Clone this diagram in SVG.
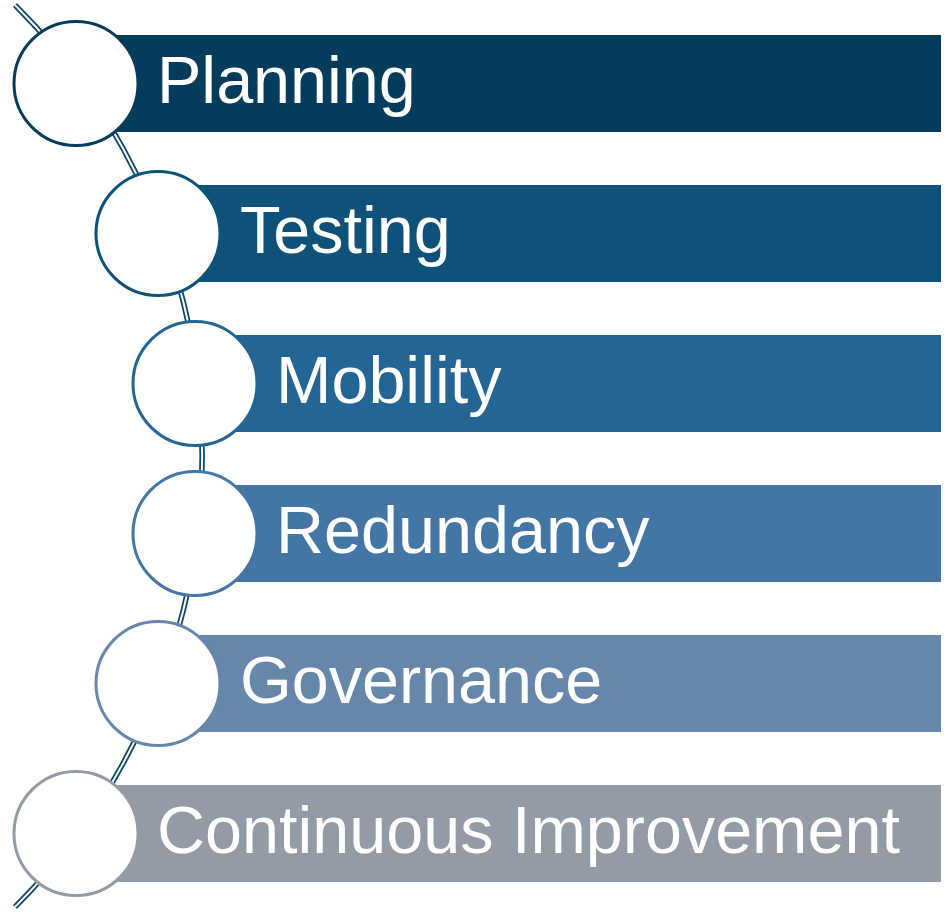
<svg xmlns="http://www.w3.org/2000/svg" width="946" height="912" viewBox="0 0 946 912">
  <style>
    .label { font-family: "Liberation Sans", Arial, sans-serif; font-size: 66.5px; fill: #ffffff; }
    .ring { fill: #ffffff; stroke-width: 3; }
    .rail-outer { fill: none; stroke: #0b4366; stroke-width: 5.5; }
    .rail-inner { fill: none; stroke: #ffffff; stroke-width: 2; }
  </style>
  <rect width="946" height="912" fill="#ffffff"/>

  <!-- bars -->
  <g id="bars">
    <rect id="bar-planning" x="76" y="35" width="865" height="97" fill="#053c5c"/>
    <rect id="bar-testing" x="158" y="185" width="783" height="97" fill="#0f5279"/>
    <rect id="bar-mobility" x="195" y="335" width="746" height="97" fill="#236595"/>
    <rect id="bar-redundancy" x="195" y="485" width="746" height="97" fill="#4375a5"/>
    <rect id="bar-governance" x="158" y="635" width="783" height="97" fill="#6687aa"/>
    <rect id="bar-continuous" x="76" y="785" width="865" height="97" fill="#939ba6"/>
  </g>

  <!-- curved double rail linking the steps -->
  <g id="connectors">
    <path class="rail-outer" d="M 15 5 A 637 637 0 0 1 15 907"/>
    <path class="rail-inner" d="M 15 5 A 637 637 0 0 1 15 907"/>
  </g>

  <g id="node-planning">
    <circle class="ring" cx="76" cy="83.5" r="62" stroke="#053c5c"/>
    <text class="label" x="157" y="103">Planning</text>
  </g>
  <g id="node-testing">
    <circle class="ring" cx="158" cy="233.5" r="62" stroke="#0f5279"/>
    <text class="label" x="240" y="253">Testing</text>
  </g>
  <g id="node-mobility">
    <circle class="ring" cx="195" cy="383.5" r="62" stroke="#236595"/>
    <text class="label" x="276" y="403">Mobility</text>
  </g>
  <g id="node-redundancy">
    <circle class="ring" cx="195" cy="533.5" r="62" stroke="#4375a5"/>
    <text class="label" x="276" y="553">Redundancy</text>
  </g>
  <g id="node-governance">
    <circle class="ring" cx="158" cy="683.5" r="62" stroke="#6687aa"/>
    <text class="label" x="240" y="703">Governance</text>
  </g>
  <g id="node-continuous">
    <circle class="ring" cx="76" cy="833.5" r="62" stroke="#939ba6"/>
    <text class="label" x="157" y="853">Continuous Improvement</text>
  </g>
</svg>
